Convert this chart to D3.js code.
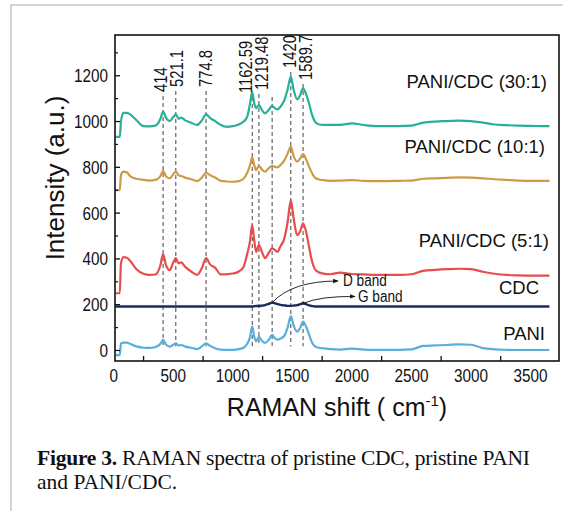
<!DOCTYPE html>
<html><head><meta charset="utf-8">
<script src="https://cdn.jsdelivr.net/npm/d3@7"></script>
<style>html,body{margin:0;padding:0;background:#fff;}svg{display:block;}</style>
</head><body>
<svg id="chart" width="563" height="511"></svg>
<script>
// ---------- data ----------
const shifts = [15,50,60,80,110,140,190,250,300,350,390,414,440,470,500,521,545,565,600,650,700,740,775,810,850,900,950,1000,1050,1090,1120,1145,1162,1180,1195,1219,1245,1270,1300,1330,1350,1375,1400,1430,1460,1487,1510,1540,1565,1590,1615,1640,1665,1690,1720,1760,1820,1900,2000,2100,2200,2300,2400,2500,2600,2700,2800,2900,3000,3100,3200,3300,3400,3500,3600,3660];
const pani = [-20,-20,30,34,34,28,18,12,11,15,28,46,25,17,25,31,22,24,17,12,6,18,31,20,10,4,3,3,6,12,28,60,104,60,40,60,42,33,45,68,55,47,52,62,100,150,110,82,98,126,105,70,35,18,12,9,6,4,8,4,3,3,3,5,20,22,24,27,25,10,5,3,2,2,2,2];
const cdc = [192,192,192,192,192,192,192,192,192,192,192,192,192,192,192,192,192,192,192,192,192,192,192,192,192,192,192,192,192,192,192,192,192,193,194,194,196,198,203,209,207,202,199,197,195,195,196,198,202,206,202,197,194,192,192,192,192,192,192,192,192,192,192,192,192,192,192,192,192,192,192,192,192,192,192,192];
const pc5 = [250,250,380,408,405,390,355,335,330,332,370,421,370,351,385,403,380,385,365,345,330,360,403,375,362,332,333,336,345,365,420,480,548,480,431,461,430,403,425,446,440,431,455,485,560,657,580,504,520,555,520,453,390,355,342,336,333,340,334,332,330,330,330,333,348,352,355,357,355,344,335,330,328,327,327,327];
const pc10 = [700,700,765,781,778,760,750,745,742,745,760,785,760,752,770,781,765,762,755,748,740,755,776,765,756,741,738,737,740,750,775,810,844,810,788,806,790,781,795,806,803,800,810,828,860,890,850,825,838,858,835,803,775,755,748,744,741,742,744,741,740,740,741,742,750,752,754,756,755,752,748,745,742,741,741,741];
const pc30 = [933,933,1000,1038,1038,1030,1006,980,979,982,1010,1043,1015,1002,1020,1031,1012,1017,1005,995,985,1005,1031,1015,1002,985,977,980,987,1000,1020,1080,1130,1080,1058,1072,1050,1036,1050,1068,1060,1053,1065,1090,1140,1196,1140,1097,1115,1145,1120,1080,1030,1000,988,985,985,985,992,985,980,980,980,982,995,1000,1002,1004,1002,995,987,984,982,981,980,980];
const seriesNames = ["PANI","CDC","PANI/CDC (5:1)","PANI/CDC (10:1)","PANI/CDC (30:1)"];
const seriesColors = ["#5aaedb","#1d2a60","#e84c4c","#cf9a48","#27b098"];
const peakLabels = ["414","521.1","774.8","1162.59","1219.48","1420","1589.7"];
const peakLinePos = [414,521,775,1163,1219,1487,1590];
const extraLinePos = [1330];
const xTicks = [0,500,1000,1500,2000,2500,3000,3500];
const xMinorTicks = [250,750,1250,1750,2250,2750,3250];
const yTicks = [0,200,400,600,800,1000,1200];
const yMinorTicks = [100,300,500,700,900,1100,1300];
const bandLabels = ["D band","G band"];
const bandPos = [1330,1590];

// ---------- layout ----------
const svg = d3.select("#chart");
const L = 115, R = 559, T = 35, B = 361;
const x = d3.scaleLinear().domain([10,3740]).range([L,R]);
const y = d3.scaleLinear().domain([-46,1378]).range([B,T]);
const font = "'Liberation Sans', Arial, sans-serif";
function narrow(sel, f){
  sel.each(function(){
    const l = this.getComputedTextLength();
    d3.select(this).attr("textLength", l*f).attr("lengthAdjust","spacingAndGlyphs");
  });
  return sel;
}

// outer figure frame (top + left grey rules)
svg.append("path").attr("d","M11,511 L11,5 L563,5").attr("fill","none").attr("stroke","#c9c9c9").attr("stroke-width",1.6);

// dashed peak lines
const labelBottoms = [92,87,87,93,90,68,80];
const labelCenters = [161,177,206,246,262,290,306];
const g = svg.append("g");
peakLinePos.forEach((p,i)=>{
  g.append("line").attr("x1",x(p)).attr("x2",x(p)).attr("y1",labelBottoms[i]+4).attr("y2",y(18))
   .attr("stroke","#444").attr("stroke-width",1).attr("stroke-dasharray","4,3");
});
extraLinePos.forEach(p=>{
  g.append("line").attr("x1",x(p)).attr("x2",x(p)).attr("y1",97).attr("y2",y(18))
   .attr("stroke","#444").attr("stroke-width",1).attr("stroke-dasharray","4,3");
});

// series
const allSeries = [pani,cdc,pc5,pc10,pc30];
const line = d3.line().x((d,i)=>x(shifts[i])).y(d=>y(d)).curve(d3.curveMonotoneX);
allSeries.forEach((s,k)=>{
  svg.append("path").datum(s).attr("d",line).attr("fill","none")
    .attr("stroke",seriesColors[k]).attr("stroke-width",k===1?2.4:2.2).attr("stroke-linejoin","round");
});

// peak labels (rotated)
peakLabels.forEach((t,i)=>{
  const px = labelCenters[i] + 6.4, py = labelBottoms[i];
  narrow(svg.append("text").attr("transform",`translate(${px},${py}) rotate(-90)`)
    .attr("font-family",font).attr("font-size",18).attr("fill","#111").text(t), 0.82);
});

// axes frame
svg.append("rect").attr("x",L).attr("y",T).attr("width",R-L).attr("height",B-T)
  .attr("fill","none").attr("stroke","#111").attr("stroke-width",1.6);

// x ticks (inward, between labels) and labels
xMinorTicks.forEach(v=>{
  svg.append("line").attr("x1",x(v)).attr("x2",x(v)).attr("y1",B).attr("y2",B-5).attr("stroke","#111").attr("stroke-width",1.3);
});
xTicks.forEach(v=>{
  narrow(svg.append("text").attr("x",x(v)).attr("y",B+21).attr("text-anchor","middle")
    .attr("font-family",font).attr("font-size",18).attr("fill","#111").text(v), 0.85);
});
// y ticks
yTicks.forEach(v=>{
  svg.append("line").attr("x1",L).attr("x2",L+5).attr("y1",y(v)).attr("y2",y(v)).attr("stroke","#111").attr("stroke-width",1.3);
  narrow(svg.append("text").attr("x",L-7).attr("y",y(v)+6.5).attr("text-anchor","end")
    .attr("font-family",font).attr("font-size",18).attr("fill","#111").text(v), 0.85);
});
yMinorTicks.forEach(v=>{
  svg.append("line").attr("x1",L).attr("x2",L+3).attr("y1",y(v)).attr("y2",y(v)).attr("stroke","#111").attr("stroke-width",1.2);
});

// axis titles
svg.append("text").attr("transform",`translate(64,178) rotate(-90)`).attr("text-anchor","middle")
  .attr("font-family",font).attr("font-size",26).attr("fill","#111").text("Intensity (a.u.)");
const xt = svg.append("text").attr("x",337).attr("y",416).attr("text-anchor","middle")
  .attr("font-family",font).attr("font-size",25).attr("fill","#111");
xt.append("tspan").text("RAMAN shift ( cm");
xt.append("tspan").attr("dy",-10).attr("font-size",15).text("-1");
xt.append("tspan").attr("dy",10).text(")");

// series labels
const labelPos = [[545,340],[539,294],[549,247],[545,153],[547,88]];
seriesNames.forEach((n,k)=>{
  svg.append("text").attr("x",labelPos[k][0]).attr("y",labelPos[k][1]).attr("text-anchor","end")
    .attr("font-family",font).attr("font-size",18.5).attr("fill","#111").text(n);
});

// band annotations with curved arrows
const defs = svg.append("defs");
defs.append("marker").attr("id","ah").attr("viewBox","0 0 10 10").attr("refX",9).attr("refY",5)
  .attr("markerWidth",6).attr("markerHeight",6).attr("orient","auto")
  .append("path").attr("d","M0,1 L10,5 L0,9 Z").attr("fill","#111");
const dStart = [x(bandPos[0]), y(cdc[shifts.indexOf(1330)])];
const gStart = [x(bandPos[1]), y(cdc[shifts.indexOf(1590)])];
svg.append("path").attr("d",`M${dStart[0]},${dStart[1]} Q${dStart[0]+20},${281} 338,281`)
  .attr("fill","none").attr("stroke","#111").attr("stroke-width",0.9).attr("marker-end","url(#ah)");
svg.append("path").attr("d",`M${gStart[0]},${gStart[1]} Q${gStart[0]+18},${296} 355,296.5`)
  .attr("fill","none").attr("stroke","#111").attr("stroke-width",0.9).attr("marker-end","url(#ah)");
narrow(svg.append("text").attr("x",343).attr("y",286).attr("font-family",font).attr("font-size",16).attr("fill","#111").text(bandLabels[0]),0.85);
narrow(svg.append("text").attr("x",358).attr("y",302).attr("font-family",font).attr("font-size",16).attr("fill","#111").text(bandLabels[1]),0.85);

// caption
const serif = "'Liberation Serif','Times New Roman',serif";
const c1 = svg.append("text").attr("x",37).attr("y",465).attr("font-family",serif).attr("font-size",21.5).attr("fill","#111")
  .attr("textLength",493).attr("lengthAdjust","spacing");
c1.append("tspan").attr("font-weight","bold").text("Figure 3.");
c1.append("tspan").text(" RAMAN spectra of pristine CDC, pristine PANI");
svg.append("text").attr("x",37).attr("y",489).attr("font-family",serif).attr("font-size",21.5).attr("fill","#111")
  .text("and PANI/CDC.");
</script>
</body></html>
